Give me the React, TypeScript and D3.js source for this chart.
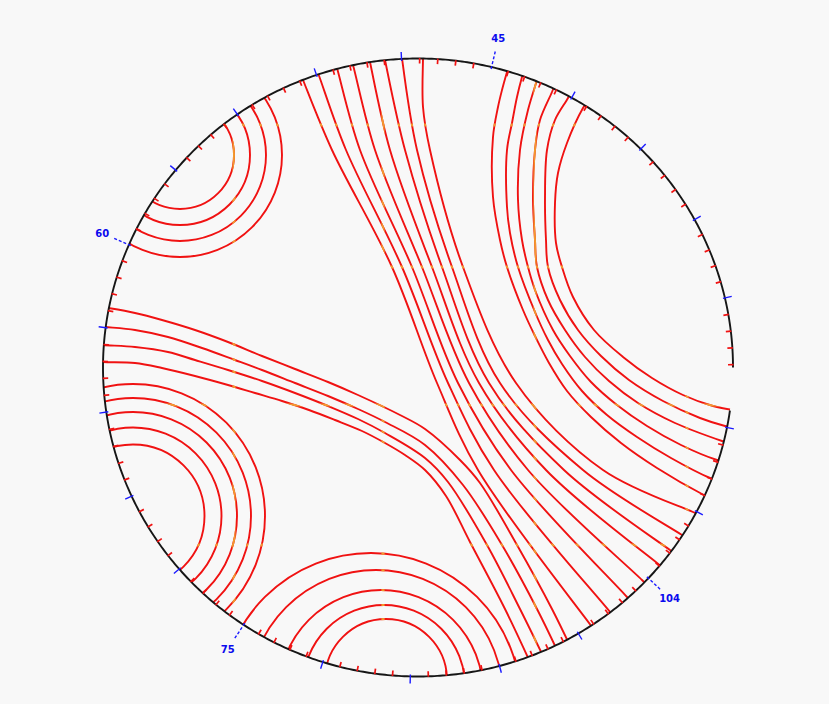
import React from "react";
import * as d3 from "d3";

const WIDTH = 829;
const HEIGHT = 704;

// Net geometry in grid units (grid: 63 x 61.8)
const netCenter = [31.5, 30.95];
const netRadius = [31.5, 30.9];
const boundarySpan = [98, 450]; // degrees, clockwise from north

// grid lines where contours are drawn orange
const gridColumns = [13.1, 28.0, 43.2, 58.4];
const gridRows = [6.7, 20.9, 34.7, 48.7];

// north-west family (concentric)
const nwCenter = [7.7, 9.7];
const nwRadii = [5.4, 7.0, 8.6, 10.2];

// south-west family (concentric)
const swCenter = [3.0, 45.8];
const swRadii = [7.15, 8.85, 10.4, 11.8, 13.2];

// south family: [cx, cy, r]
const southArcs = [
  [28.3, 62.2, 6.1],
  [28.1, 62.8, 8.1],
  [27.8, 63.4, 10.2],
  [27.3, 63.9, 12.7],
  [26.8, 64.5, 15.0],
];

// central diagonal band
const centralBand = [
  [[19.6, 1.2], [20.0, 2.2], [22.9, 9.2], [28.9, 20.9], [33.4, 32.5], [37.5, 41.2], [48.9, 56.9], [49.7, 58.0]],
  [[21.1, 0.5], [21.5, 1.5], [24.3, 9.2], [29.9, 20.9], [34.5, 32.5], [39.1, 41.2], [50.7, 55.4], [51.5, 56.4]],
  [[23.1, 0.0], [23.4, 1.0], [25.7, 9.2], [30.9, 20.9], [35.5, 32.5], [40.8, 41.2], [52.4, 53.9], [53.2, 54.8]],
  [[24.7, -0.3], [25.0, 0.7], [27.2, 9.2], [31.9, 20.9], [36.6, 32.5], [42.5, 41.2], [53.9, 52.2], [54.7, 53.0]],
  [[26.5, -0.6], [26.7, 0.4], [28.7, 9.2], [32.9, 20.9], [37.6, 32.5], [44.3, 41.2], [55.4, 50.5], [56.3, 51.2]],
  [[28.0, -0.8], [28.2, 0.2], [30.2, 9.2], [33.9, 20.9], [38.6, 32.5], [46.1, 41.2], [56.7, 49.2], [57.7, 49.9]],
  [[29.8, -1.0], [29.9, 0.0], [31.4, 9.2], [34.9, 20.9], [39.7, 32.5], [48.0, 41.2], [57.9, 47.7], [59.0, 48.4]],
  [[32.0, -1.0], [32.0, 0.0], [32.0, 4.9], [32.7, 9.2], [36.0, 20.9], [41.3, 32.5], [50.0, 41.2], [59.0, 45.4], [60.2, 45.9]],
];

// western band (from the left rim to the bottom)
const westBand = [
  [[-0.8, 24.8], [0.5, 25.0], [3.2, 25.5], [5.9, 26.2], [9.2, 27.2], [12.5, 28.4], [15.9, 29.8], [19.2, 31.1], [22.5, 32.4], [25.5, 33.7], [29.7, 35.7], [32.2, 37.1], [35.7, 40.2], [37.7, 42.5], [41.4, 48.7], [44.9, 55.1], [46.9, 59.2]],
  [[-0.8, 26.8], [0.2, 26.9], [3.2, 27.2], [6.5, 27.9], [9.9, 29.0], [13.2, 30.2], [15.9, 31.2], [19.2, 32.5], [22.5, 33.8], [25.5, 35.1], [28.2, 36.4], [32.2, 38.7], [36.0, 42.7], [39.9, 48.7], [43.4, 55.1], [45.4, 59.2]],
  [[-0.9, 28.6], [0.0, 28.7], [3.2, 28.9], [6.5, 29.4], [9.2, 30.2], [12.5, 31.2], [15.9, 32.3], [19.2, 33.5], [22.5, 34.8], [25.5, 36.1], [28.2, 37.5], [32.2, 40.0], [34.5, 42.4], [38.4, 48.7], [41.7, 55.1], [44.2, 60.2]],
  [[-0.9, 30.3], [0.0, 30.4], [3.2, 30.5], [5.9, 31.0], [9.2, 31.8], [12.5, 32.7], [15.2, 33.5], [17.9, 34.3], [20.6, 35.2], [23.2, 36.2], [25.9, 37.3], [28.2, 38.5], [30.2, 39.7], [32.2, 41.2], [34.3, 43.8], [36.7, 48.4], [40.2, 55.1], [42.7, 60.4]],
];

// eastern family (from the top rim to the right rim)
const eastFamily = [
  [[40.7, 0.4], [40.4, 1.4], [39.9, 3.2], [39.5, 4.9], [39.0, 7.9], [39.0, 13.9], [39.7, 18.2], [40.4, 20.9], [42.0, 25.2], [43.2, 27.8], [44.6, 30.5], [46.4, 33.3], [48.8, 35.9], [51.8, 38.5], [55.4, 41.0], [59.9, 43.6], [61.2, 44.2]],
  [[42.2, 0.9], [41.9, 1.9], [41.4, 3.9], [40.9, 6.5], [40.4, 9.2], [40.4, 14.9], [40.7, 17.5], [41.5, 20.9], [43.2, 25.4], [44.5, 28.2], [45.9, 30.6], [47.9, 33.3], [50.4, 35.7], [53.4, 37.9], [56.8, 40.0], [60.7, 42.0], [61.9, 42.4]],
  [[43.7, 1.2], [43.4, 2.2], [42.5, 5.2], [41.7, 9.2], [41.5, 14.2], [41.9, 18.2], [42.5, 20.9], [43.2, 23.2], [45.0, 27.2], [46.7, 29.8], [48.8, 32.4], [51.4, 34.7], [54.4, 36.8], [57.8, 38.7], [61.4, 40.2], [62.7, 40.5]],
  [[45.3, 2.4], [44.9, 3.4], [43.7, 6.2], [43.2, 9.2], [43.0, 14.2], [43.2, 18.2], [43.4, 20.9], [44.5, 24.2], [46.2, 27.2], [48.2, 29.9], [50.6, 32.3], [53.5, 34.5], [57.2, 36.5], [61.9, 38.3], [63.2, 38.7]],
  [[47.0, 3.0], [46.5, 4.0], [45.2, 6.2], [44.4, 9.2], [44.2, 14.2], [44.3, 18.2], [44.5, 20.9], [45.7, 24.2], [47.5, 27.2], [49.8, 29.8], [52.6, 32.2], [56.0, 34.3], [59.7, 36.0], [62.2, 36.8], [63.7, 37.1]],
  [[48.7, 4.0], [48.0, 5.0], [46.4, 8.5], [45.5, 11.5], [45.2, 14.5], [45.3, 18.5], [45.9, 20.9], [47.0, 23.9], [49.1, 27.2], [52.0, 29.9], [54.9, 32.0], [58.0, 33.7], [61.0, 34.8], [63.7, 35.3]],
];

// rim ticks (degrees clockwise from north)
const majorTickAngles = [
  101.2, 117.8, 133, 149.4, 165, 181.4, 197.6, 213.6, 229.3, 245.4, 261.7,
  277.4, 293.4, 309.7, 325, 341.2, 357, 373.5, 389.2, 405, 421.4, 437,
];
const minorPerMajor = 5;
const tickLabels = [
  { angle: 373.5, text: "45" },
  { angle: 293.4, text: "60" },
  { angle: 213.6, text: "75" },
  { angle: 133, text: "104" },
];

export default function App() {
  const x = d3.scaleLinear().domain([0, 63]).range([103, 733]);
  const y = d3.scaleLinear().domain([0, 61.8]).range([58, 676]);
  const unit = x(1) - x(0);

  const line = d3
    .line<number[]>()
    .x((d) => x(d[0]))
    .y((d) => y(d[1]))
    .curve(d3.curveCatmullRom.alpha(0.5));

  const rad = (a: number) => (a * Math.PI) / 180;
  const rimPoint = (a: number) => [
    x(netCenter[0] + netRadius[0] * Math.sin(rad(a))),
    y(netCenter[1] - netRadius[1] * Math.cos(rad(a))),
  ];
  const normal = (a: number) => [Math.sin(rad(a)), -Math.cos(rad(a))];

  const rimPath = d3.line()(
    d3.range(boundarySpan[0], boundarySpan[1] + 0.001, 0.5).map(rimPoint) as [number, number][]
  ) as string;

  // minor ticks: subdivisions of the major spacing
  const minorTicks: number[] = [];
  const firstStep = (majorTickAngles[1] - majorTickAngles[0]) / minorPerMajor;
  for (let a = majorTickAngles[0] - firstStep; a >= boundarySpan[0] - 0.01; a -= firstStep) minorTicks.push(a);
  for (let i = 0; i < majorTickAngles.length - 1; i++) {
    const a0 = majorTickAngles[i];
    const step = (majorTickAngles[i + 1] - a0) / minorPerMajor;
    for (let j = 1; j < minorPerMajor; j++) minorTicks.push(a0 + j * step);
  }
  const nM = majorTickAngles.length;
  const lastStep = (majorTickAngles[nM - 1] - majorTickAngles[nM - 2]) / minorPerMajor;
  for (let a = majorTickAngles[nM - 1] + lastStep; a <= boundarySpan[1] + 0.3; a += lastStep) minorTicks.push(a);

  const labelAngles = new Set(tickLabels.map((l) => l.angle));

  const contours = (stroke: string, key: string) => (
    <g key={key} fill="none" stroke={stroke} strokeWidth={1.9} strokeLinejoin="round">
      {nwRadii.map((r, i) => (
        <circle key={"nw" + i} cx={x(nwCenter[0])} cy={y(nwCenter[1])} r={r * unit} />
      ))}
      {swRadii.map((r, i) => (
        <circle key={"sw" + i} cx={x(swCenter[0])} cy={y(swCenter[1])} r={r * unit} />
      ))}
      {southArcs.map((c, i) => (
        <circle key={"s" + i} cx={x(c[0])} cy={y(c[1])} r={c[2] * unit} />
      ))}
      {[...centralBand, ...westBand, ...eastFamily].map((pts, i) => (
        <path key={"p" + i} d={line(pts) as string} />
      ))}
    </g>
  );

  return (
    <svg
      width={WIDTH}
      height={HEIGHT}
      style={{ position: "absolute", left: 0, top: 0, display: "block" }}
    >
      <defs>
        <clipPath id="net-clip">
          <ellipse
            cx={x(netCenter[0])}
            cy={y(netCenter[1])}
            rx={netRadius[0] * unit}
            ry={netRadius[1] * (y(1) - y(0))}
          />
        </clipPath>
        <clipPath id="grid-bands">
          {gridColumns.map((g, i) => (
            <rect key={"c" + i} x={x(g) - 1.6} y={0} width={3.2} height={HEIGHT} />
          ))}
          {gridRows.map((g, i) => (
            <rect key={"r" + i} x={0} y={y(g) - 1.6} width={WIDTH} height={3.2} />
          ))}
        </clipPath>
      </defs>
      <rect x={0} y={0} width={WIDTH} height={HEIGHT} fill="#f8f8f8" />

      <g clipPath="url(#net-clip)">
        {contours("#f01212", "red")}
        <g clipPath="url(#grid-bands)">{contours("#f29a2e", "orange")}</g>
      </g>

      {/* rim */}
      <path d={rimPath} fill="none" stroke="#161616" strokeWidth={1.9} />

      {/* minor ticks (inward, red) */}
      {minorTicks.map((a, i) => {
        const p = rimPoint(a);
        const n = normal(a);
        return (
          <line
            key={"m" + i}
            x1={p[0] + n[0] * 0.5}
            y1={p[1] + n[1] * 0.5}
            x2={p[0] - n[0] * 5}
            y2={p[1] - n[1] * 5}
            stroke="#f01212"
            strokeWidth={1.7}
          />
        );
      })}

      {/* major ticks (outward, blue) */}
      {majorTickAngles.map((a, i) => {
        const p = rimPoint(a);
        const n = normal(a);
        const labelled = labelAngles.has(a);
        return (
          <line
            key={"M" + i}
            x1={p[0] - n[0] * 2}
            y1={p[1] - n[1] * 2}
            x2={p[0] + n[0] * (labelled ? 16 : 7)}
            y2={p[1] + n[1] * (labelled ? 16 : 7)}
            stroke="#1a1aff"
            strokeWidth={1.4}
            strokeDasharray={labelled ? "3 2" : undefined}
          />
        );
      })}

      {tickLabels.map((l, i) => {
        const p = rimPoint(l.angle);
        const n = normal(l.angle);
        return (
          <text
            key={"L" + i}
            x={p[0] + n[0] * 29}
            y={p[1] + n[1] * 29}
            textAnchor="middle"
            dominantBaseline="central"
            fontFamily="DejaVu Sans, sans-serif"
            fontWeight="bold"
            fontSize={10}
            fill="#0a0aee"
          >
            {l.text}
          </text>
        );
      })}
    </svg>
  );
}
